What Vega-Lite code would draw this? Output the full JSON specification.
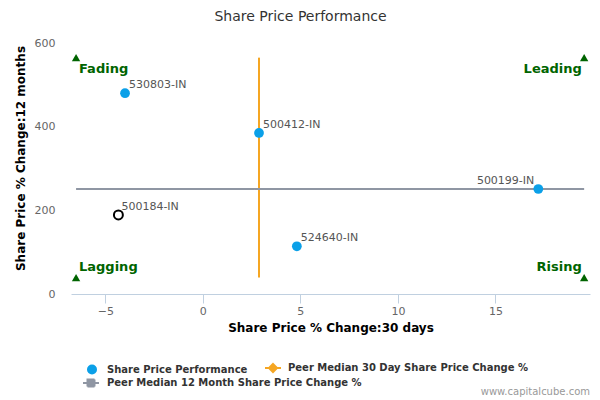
{
  "$schema": "https://vega.github.io/schema/vega-lite/v6.json",
  "width": 519,
  "height": 251,
  "autosize": {"type": "none"},
  "padding": {"left": 71, "top": 43, "right": 10, "bottom": 106},
  "background": "white",
  "title": {
    "text": "Share Price Performance",
    "font": "DejaVu Sans",
    "fontSize": 14,
    "fontWeight": "normal",
    "color": "#333333",
    "anchor": "middle",
    "dx": -30,
    "offset": 13
  },
  "config": {
    "view": {"stroke": null},
    "font": "DejaVu Sans",
    "legend": {
      "orient": "none",
      "columnPadding": 13,
      "rowPadding": 4,
      "labelFont": "DejaVu Sans",
      "labelFontSize": 10,
      "labelFontWeight": "bold",
      "labelColor": "#333333",
      "labelLimit": 0,
      "symbolSize": 100,
      "labelOffset": 10,
      "title": null
    }
  },
  "datasets": {
    "companies": [
      {"name": "530803-IN", "x": -3.99, "y": 480, "series": "Share Price Performance", "side": "right"},
      {"name": "500412-IN", "x": 2.88, "y": 385, "series": "Share Price Performance", "side": "right"},
      {"name": "500199-IN", "x": 17.2, "y": 251, "series": "Share Price Performance", "side": "left"},
      {"name": "524640-IN", "x": 4.82, "y": 114, "series": "Share Price Performance", "side": "right"}
    ],
    "subject": [
      {"name": "500184-IN", "x": -4.33, "y": 189}
    ],
    "corners": [
      {"x": -6.5, "y": 565},
      {"x": 19.55, "y": 565},
      {"x": -6.5, "y": 39.4},
      {"x": 19.55, "y": 39.4}
    ],
    "quadLabels": [
      {"label": "Fading", "x": -6.35, "y": 538, "side": "left"},
      {"label": "Lagging", "x": -6.35, "y": 63.5, "side": "left"},
      {"label": "Leading", "x": 19.43, "y": 538, "side": "right"},
      {"label": "Rising", "x": 19.43, "y": 63.5, "side": "right"}
    ]
  },
  "encoding": {
    "x": {
      "field": "x",
      "type": "quantitative",
      "scale": {"domain": [-6.76, 19.85], "nice": false, "zero": false},
      "axis": {
        "values": [-5, 0, 5, 10, 15],
        "title": "Share Price % Change:30 days",
        "titleFont": "DejaVu Sans",
        "titleFontSize": 12,
        "titleFontWeight": "bold",
        "titleColor": "#000000",
        "titlePadding": 6,
        "domainColor": "#c0d0e0",
        "tickColor": "#c0d0e0",
        "tickSize": 9,
        "labelPadding": 2,
        "labelColor": "#666666",
        "labelFontSize": 11,
        "labelFont": "DejaVu Sans",
        "grid": false
      }
    },
    "y": {
      "field": "y",
      "type": "quantitative",
      "scale": {"domain": [0, 600], "nice": false, "zero": false},
      "axis": {
        "values": [0, 200, 400, 600],
        "title": "Share Price % Change:12 months",
        "titleFont": "DejaVu Sans",
        "titleFontSize": 12,
        "titleFontWeight": "bold",
        "titleColor": "#000000",
        "titlePadding": 7,
        "titleY": 115,
        "domain": false,
        "ticks": false,
        "labelPadding": 16,
        "labelColor": "#666666",
        "labelFontSize": 11,
        "labelFont": "DejaVu Sans",
        "grid": false
      }
    }
  },
  "layer": [
    {
      "data": {"values": [{"series": "Peer Median 30 Day Share Price Change %", "x": 2.88, "y": 39.4, "y2": 565}]},
      "mark": {"type": "rule", "strokeWidth": 2},
      "encoding": {
        "y2": {"field": "y2"},
        "color": {
          "field": "series",
          "type": "nominal",
          "scale": {
            "domain": ["Share Price Performance", "Peer Median 30 Day Share Price Change %"],
            "range": ["#0ba0e8", "#f5a623"]
          },
          "legend": {
            "orient": "none",
            "legendX": 16,
            "legendY": 320,
            "columns": 2,
            "encode": {
              "symbols": {
                "update": {
                  "shape": {"signal": "datum.label === 'Share Price Performance' ? 'circle' : 'M-1.6,0L1.6,0M0,-0.8L0.8,0L0,0.8L-0.8,0Z'"},
                  "fill": {"scale": "color", "field": "value"},
                  "stroke": {"scale": "color", "field": "value"},
                  "strokeWidth": {"signal": "datum.label === 'Share Price Performance' ? 0 : 2"},
                  "opacity": {"value": 1},
                  "fillOpacity": {"value": 1}
                }
              }
            }
          }
        }
      }
    },
    {
      "data": {"values": [{"series": "Peer Median 12 Month Share Price Change %", "x": -6.5, "x2": 19.55, "y": 251}]},
      "mark": {"type": "rule", "strokeWidth": 2, "color": "#8f96a3"},
      "encoding": {
        "x2": {"field": "x2"},
        "strokeDash": {
          "field": "series",
          "type": "nominal",
          "scale": {"range": [[1, 0]]},
          "legend": {
            "orient": "none",
            "legendX": 14,
            "legendY": 334,
            "symbolType": "M-1.6,0L1.6,0M-0.7,-0.7L0.7,-0.7L0.7,0.7L-0.7,0.7Z",
            "symbolFillColor": "#8f96a3",
            "symbolStrokeColor": "#8f96a3",
            "symbolStrokeWidth": 2,
            "symbolSize": 100,
            "symbolOpacity": 1,
            "encode": {
              "symbols": {
                "update": {
                  "shape": {"value": "M-1.6,0L1.6,0M-0.7,-0.7L0.7,-0.7L0.7,0.7L-0.7,0.7Z"},
                  "fill": {"value": "#8f96a3"},
                  "stroke": {"value": "#8f96a3"},
                  "strokeWidth": {"value": 2},
                  "size": {"value": 100},
                  "opacity": {"value": 1},
                  "fillOpacity": {"value": 1}
                }
              }
            }
          }
        }
      }
    },
    {
      "data": {"name": "companies"},
      "mark": {"type": "point", "shape": "circle", "filled": true, "size": 95, "opacity": 1},
      "encoding": {
        "color": {"field": "series", "type": "nominal"}
      }
    },
    {
      "data": {"name": "subject"},
      "mark": {"type": "point", "shape": "circle", "filled": false, "size": 80, "stroke": "#000000", "strokeWidth": 2, "opacity": 1}
    },
    {
      "data": {"name": "companies"},
      "transform": [{"filter": "datum.side === 'right'"}],
      "mark": {"type": "text", "align": "left", "baseline": "middle", "dx": 4, "dy": -8, "fontSize": 11, "font": "DejaVu Sans", "color": "#555555"},
      "encoding": {"text": {"field": "name"}}
    },
    {
      "data": {"name": "companies"},
      "transform": [{"filter": "datum.side === 'left'"}],
      "mark": {"type": "text", "align": "right", "baseline": "middle", "dx": -4, "dy": -8, "fontSize": 11, "font": "DejaVu Sans", "color": "#555555"},
      "encoding": {"text": {"field": "name"}}
    },
    {
      "data": {"name": "subject"},
      "mark": {"type": "text", "align": "left", "baseline": "middle", "dx": 3, "dy": -8, "fontSize": 11, "font": "DejaVu Sans", "color": "#555555"},
      "encoding": {"text": {"field": "name"}}
    },
    {
      "data": {"name": "corners"},
      "mark": {"type": "point", "shape": "triangle-up", "filled": true, "size": 70, "color": "#006400", "opacity": 1}
    },
    {
      "data": {"name": "quadLabels"},
      "transform": [{"filter": "datum.side === 'left'"}],
      "mark": {"type": "text", "align": "left", "baseline": "middle", "fontSize": 13, "fontWeight": "bold", "font": "DejaVu Sans", "color": "#006400"},
      "encoding": {"text": {"field": "label"}}
    },
    {
      "data": {"name": "quadLabels"},
      "transform": [{"filter": "datum.side === 'right'"}],
      "mark": {"type": "text", "align": "right", "baseline": "middle", "fontSize": 13, "fontWeight": "bold", "font": "DejaVu Sans", "color": "#006400"},
      "encoding": {"text": {"field": "label"}}
    },
    {
      "data": {"values": [{"label": "www.capitalcube.com", "x": 19.85, "y": -234}]},
      "mark": {"type": "text", "align": "right", "baseline": "middle", "fontSize": 10, "font": "DejaVu Sans", "color": "#999999"},
      "encoding": {"text": {"field": "label"}}
    }
  ]
}
